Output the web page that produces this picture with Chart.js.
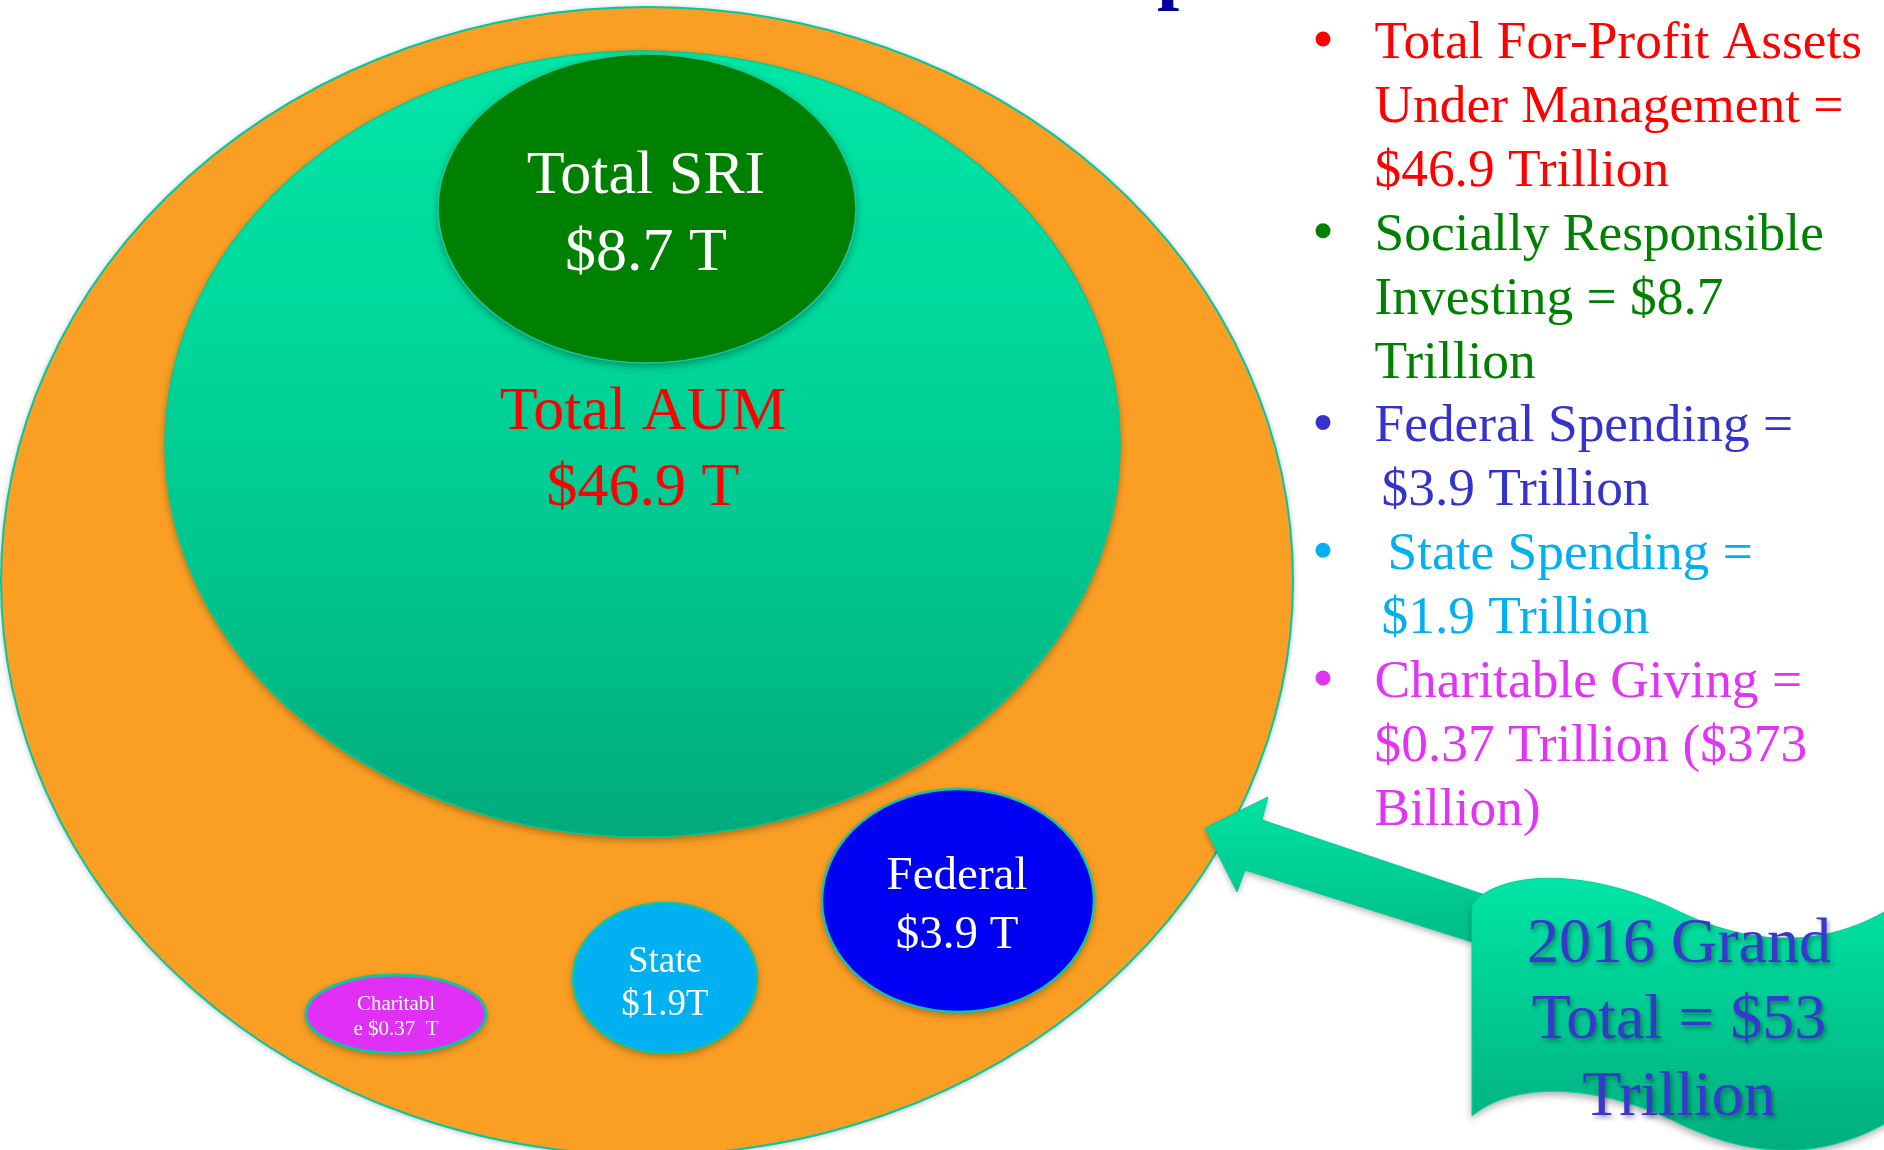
<!DOCTYPE html>
<html><head><meta charset="utf-8">
<script src="https://cdn.jsdelivr.net/npm/chart.js@4"></script>
<style>html,body{margin:0;padding:0;background:#fff;overflow:hidden}canvas{display:block}</style>
</head><body>
<canvas id="c" width="1884" height="1150" style="width:1884px;height:1150px"></canvas>
<script>
// ---- DATA ----
const categories = ['2016 Grand Total', 'Total AUM', 'Total SRI', 'Federal', 'State', 'Charitable'];
const valuesTrillion = [53, 46.9, 8.7, 3.9, 1.9, 0.37];
const bubbleLabels = [[], ['Total AUM', '$46.9 T'], ['Total SRI', '$8.7 T'], ['Federal', '$3.9 T'], ['State', '$1.9T'], ['Charitabl', 'e $0.37  T']];
const legendItems = [
  ['Total For-Profit Assets', 'Under Management =', '$46.9 Trillion'],
  ['Socially Responsible', 'Investing = $8.7', 'Trillion'],
  ['Federal Spending =', ' $3.9 Trillion'],
  [' State Spending =', ' $1.9 Trillion'],
  ['Charitable Giving =', '$0.37 Trillion ($373', 'Billion)']
];
const bannerLines = ['2016 Grand', 'Total = $53', 'Trillion'];
const titleFragment = 'p';

// ---- LAYOUT (axis units) ----
const geom = {
  ellipses: [
    {cx: 647, cy: 581, rx: 646, ry: 574},
    {cx: 642.5, cy: 444, rx: 477.5, ry: 393},
    {cx: 647, cy: 208.5, rx: 209, ry: 154.5},
    {cx: 958, cy: 900.5, rx: 136, ry: 111.5},
    {cx: 665, cy: 978, rx: 92, ry: 75},
    {cx: 396, cy: 1014, rx: 90, ry: 39}
  ],
  labels: [null,
    {x: 643, y: [429, 505], size: 62},
    {x: 646, y: [193, 270], size: 62},
    {x: 957, y: [889, 948], size: 47},
    {x: 665, y: [972, 1015], size: 37},
    {x: 396, y: [1010, 1035], size: 21}
  ],
  legend: {bulletX: 1323, textX: 1374.5, y0: 58, step: 63.9, size: 53.4, bulletR: 7.5, bulletDy: 19,
           indents: [[0, 0, 0], [0, 0, 0], [0, 7], [13, 7], [0, 0, 0]]},
  arrow: [[1205, 828], [1268, 797], [1262, 820], [1485, 895], [1472, 942], [1245, 870], [1237, 892]],
  banner: {start: [1478, 898], segs: [[1515, 868, 1600, 872, 1680, 912], [1760, 950, 1860, 960, 1960, 850]], shift: 212, leftX: 1472},
  bannerText: {x: 1679, y: [962, 1038, 1115], size: 64},
  title: {x: 1157, y: -6, size: 80}
};

// ---- STYLES ----
const styles = {
  fills: ['#FB9F24', 'grad', '#008000', '#0000F2', '#00B0F0', '#E030F5'],
  borders: ['#00C8A0', '#00CC96', '#1FC79A', '#10C4A0', '#10C4A0', '#10C49C'],
  borderW: [2, 1.5, 1.5, 2.5, 2.5, 3],
  labelColors: [null, '#FF0000', '#FFFFFF', '#FFFFFF', '#FFFFFF', '#FFFFFF'],
  legendColors: ['#FF0000', '#008000', '#3434CC', '#00B0F0', '#E234F6'],
  bannerText: '#3838CF',
  title: '#000099'
};

const font = (s, w) => (w ? w + ' ' : '') + s + 'px "Liberation Serif", "Times New Roman", serif';

const drawPlugin = {
  id: 'infographic',
  afterDatasetsDraw(chart) {
    const ctx = chart.ctx;
    const xs = chart.scales.x, ys = chart.scales.y;
    const X = v => xs.getPixelForValue(v);
    const Y = v => ys.getPixelForValue(v);
    const W = (a, d) => Math.abs(X(a + d) - X(a));
    const H = (a, d) => Math.abs(Y(a + d) - Y(a));

    // ellipses
    chart.data.datasets[0].data.forEach((p, i) => {
      const e = geom.ellipses[i];
      const cx = X(p.x), cy = Y(p.y), rx = W(e.cx, e.rx), ry = H(e.cy, e.ry);
      ctx.save();
      ctx.beginPath();
      ctx.ellipse(cx, cy, rx, ry, 0, 0, Math.PI * 2);
      let fill = styles.fills[i];
      if (fill === 'grad') {
        const g = ctx.createLinearGradient(0, cy - ry, 0, cy + ry);
        g.addColorStop(0, '#00E6A6');
        g.addColorStop(0.35, '#00D89C');
        g.addColorStop(0.75, '#00BF89');
        g.addColorStop(1, '#00AA7B');
        fill = g;
      }
      ctx.fillStyle = fill;
      ctx.shadowColor = 'rgba(0,0,0,0.35)';
      ctx.shadowBlur = i === 0 ? 6 : 9;
      ctx.shadowOffsetX = 0;
      ctx.shadowOffsetY = i === 0 ? 1 : 3;
      ctx.fill();
      ctx.shadowColor = 'transparent';
      ctx.lineWidth = styles.borderW[i];
      ctx.strokeStyle = styles.borders[i];
      ctx.stroke();
      ctx.restore();
    });

    // labels inside ellipses
    bubbleLabels.forEach((lines, i) => {
      const L = geom.labels[i];
      if (!L) return;
      ctx.save();
      ctx.font = font(L.size);
      ctx.fillStyle = styles.labelColors[i];
      ctx.textAlign = 'center';
      ctx.textBaseline = 'alphabetic';
      lines.forEach((t, k) => ctx.fillText(t, X(L.x), Y(L.y[k])));
      ctx.restore();
    });

    // arrow
    ctx.save();
    ctx.beginPath();
    geom.arrow.forEach((pt, k) => k ? ctx.lineTo(X(pt[0]), Y(pt[1])) : ctx.moveTo(X(pt[0]), Y(pt[1])));
    ctx.closePath();
    const ag = ctx.createLinearGradient(0, Y(797), 0, Y(942));
    ag.addColorStop(0, '#00E3A3');
    ag.addColorStop(1, '#00BD88');
    ctx.fillStyle = ag;
    ctx.shadowColor = 'rgba(0,0,0,0.3)';
    ctx.shadowBlur = 6;
    ctx.shadowOffsetY = 3;
    ctx.fill();
    ctx.shadowColor = 'transparent';
    ctx.strokeStyle = '#00CC95';
    ctx.lineWidth = 1;
    ctx.stroke();
    ctx.restore();

    // banner
    const b = geom.banner;
    ctx.save();
    ctx.beginPath();
    ctx.moveTo(X(b.start[0]), Y(b.start[1]));
    b.segs.forEach(s => ctx.bezierCurveTo(X(s[0]), Y(s[1]), X(s[2]), Y(s[3]), X(s[4]), Y(s[5])));
    const last = b.segs[b.segs.length - 1];
    ctx.lineTo(X(last[4]), Y(last[5] + b.shift));
    for (let k = b.segs.length - 1; k >= 0; k--) {
      const s = b.segs[k];
      const prev = k > 0 ? [b.segs[k - 1][4], b.segs[k - 1][5]] : [b.leftX, b.start[1] + 6];
      ctx.bezierCurveTo(X(s[2]), Y(s[3] + b.shift), X(s[0]), Y(s[1] + b.shift), X(prev[0]), Y(prev[1] + b.shift));
    }
    ctx.lineTo(X(b.leftX), Y(b.start[1] + 8));
    ctx.closePath();
    const bg = ctx.createLinearGradient(0, Y(875), 0, Y(1150));
    bg.addColorStop(0, '#00E6A6');
    bg.addColorStop(1, '#00AE7E');
    ctx.fillStyle = bg;
    ctx.shadowColor = 'rgba(0,0,0,0.3)';
    ctx.shadowBlur = 7;
    ctx.shadowOffsetX = -1;
    ctx.shadowOffsetY = 4;
    ctx.fill();
    ctx.shadowColor = 'transparent';
    ctx.strokeStyle = '#00D39B';
    ctx.lineWidth = 1;
    ctx.stroke();
    ctx.restore();

    // banner text
    const bt = geom.bannerText;
    ctx.save();
    ctx.font = font(bt.size);
    ctx.fillStyle = styles.bannerText;
    ctx.textAlign = 'center';
    ctx.shadowColor = 'rgba(0,0,0,0.35)';
    ctx.shadowBlur = 4;
    ctx.shadowOffsetX = 2;
    ctx.shadowOffsetY = 3;
    bannerLines.forEach((t, k) => ctx.fillText(t, X(bt.x), Y(bt.y[k])));
    ctx.restore();

    // legend list
    const lg = geom.legend;
    ctx.save();
    ctx.font = font(lg.size);
    ctx.textAlign = 'left';
    let line = 0;
    legendItems.forEach((item, i) => {
      ctx.fillStyle = styles.legendColors[i];
      const by = lg.y0 + line * lg.step;
      ctx.beginPath();
      ctx.arc(X(lg.bulletX), Y(by - lg.bulletDy), lg.bulletR, 0, Math.PI * 2);
      ctx.fill();
      item.forEach((t, k) => {
        const y = lg.y0 + line * lg.step;
        const off = (lg.indents[i] && lg.indents[i][k]) || 0;
        ctx.fillText(t.trimStart(), X(lg.textX + off), Y(y));
        line++;
      });
    });
    ctx.restore();

    // cut-off title fragment
    ctx.save();
    ctx.font = font(geom.title.size, 'bold');
    ctx.fillStyle = styles.title;
    ctx.textAlign = 'left';
    ctx.fillText(titleFragment, X(geom.title.x), Y(geom.title.y));
    ctx.restore();
  }
};

new Chart(document.getElementById('c'), {
  type: 'scatter',
  data: {
    labels: categories,
    datasets: [{
      label: 'Trillions of dollars',
      data: categories.map((c, i) => ({x: geom.ellipses[i].cx, y: geom.ellipses[i].cy, v: valuesTrillion[i]})),
      pointRadius: 0,
      pointHoverRadius: 0
    }]
  },
  options: {
    responsive: false,
    animation: false,
    events: [],
    layout: {padding: 0},
    plugins: {legend: {display: false}, tooltip: {enabled: false}, title: {display: false}},
    scales: {
      x: {type: 'linear', min: 0, max: 1884, display: false},
      y: {type: 'linear', min: 0, max: 1150, reverse: true, display: false}
    }
  },
  plugins: [drawPlugin]
});
</script>
</body></html>
